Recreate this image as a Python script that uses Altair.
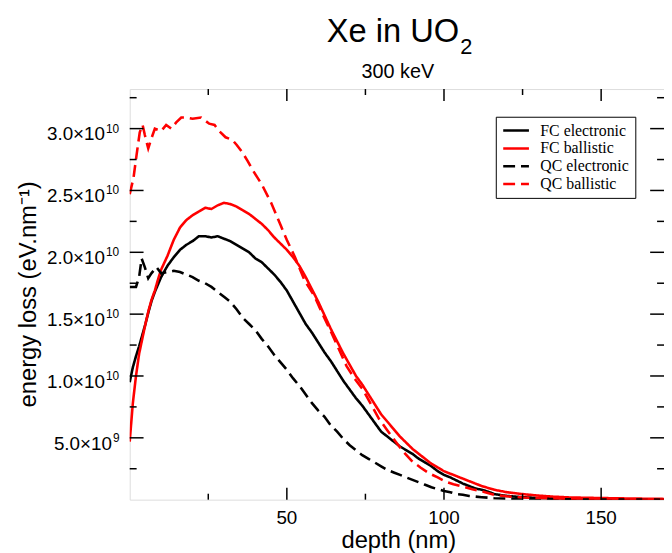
import altair as alt
import pandas as pd

# ---------------- data ----------------
series_names = ["FC electronic", "FC ballistic", "QC electronic", "QC ballistic"]
series_colors = ["black", "red", "black", "red"]
series_dash = [[1, 0], [1, 0], [12, 6], [12, 6]]

# values in units of 1e10 eV/nm
fc_el_x = [0, 1, 2, 3, 4, 5, 6, 7, 8, 10, 12, 14, 16, 18, 20, 22, 24, 26, 28, 30, 32, 34, 36, 38, 40,
           42, 44, 46, 48, 50, 52, 54, 56, 58, 60, 62, 64, 66, 68, 70, 72, 74, 76, 78, 80, 82, 84, 86,
           88, 90, 92, 94, 96, 98, 100, 102, 104, 106, 108, 110, 112, 114, 116, 120, 125, 130, 140,
           150, 160, 170]
fc_el_y = [0.95, 1.07, 1.16, 1.24, 1.33, 1.42, 1.52, 1.61, 1.68, 1.80, 1.89, 1.96, 2.02, 2.06, 2.09,
           2.13, 2.13, 2.12, 2.13, 2.11, 2.09, 2.06, 2.03, 2.00, 1.95, 1.92, 1.87, 1.82, 1.76, 1.69,
           1.60, 1.51, 1.42, 1.35, 1.27, 1.19, 1.12, 1.04, 0.96, 0.89, 0.82, 0.76, 0.69, 0.62, 0.55,
           0.51, 0.47, 0.43, 0.40, 0.37, 0.33, 0.30, 0.27, 0.23, 0.20, 0.18, 0.155, 0.13, 0.11, 0.09,
           0.08, 0.065, 0.045, 0.03, 0.02, 0.013, 0.007, 0.004, 0.002, 0.001]

fc_ba_x = [0, 1, 2, 3, 4, 5, 6, 7, 8, 9, 10, 12, 14, 16, 18, 20, 22, 24, 26, 28, 30, 32, 34, 36, 38,
           40, 42, 44, 46, 48, 50, 52, 54, 56, 58, 60, 62, 64, 66, 68, 70, 72, 74, 76, 78, 80, 82, 84,
           86, 88, 90, 92, 94, 96, 98, 100, 102, 104, 106, 108, 110, 112, 114, 116, 120, 125, 130,
           135, 140, 150, 160, 170]
fc_ba_y = [0.47, 0.78, 1.00, 1.18, 1.30, 1.42, 1.53, 1.62, 1.69, 1.78, 1.86, 1.97, 2.10, 2.20, 2.26,
           2.30, 2.33, 2.36, 2.35, 2.38, 2.40, 2.39, 2.37, 2.34, 2.31, 2.27, 2.23, 2.18, 2.12, 2.07,
           2.02, 1.96, 1.89, 1.80, 1.70, 1.60, 1.49, 1.38, 1.28, 1.18, 1.09, 1.00, 0.93, 0.85, 0.77,
           0.69, 0.63, 0.57, 0.51, 0.46, 0.41, 0.37, 0.33, 0.29, 0.26, 0.23, 0.21, 0.19, 0.17, 0.15,
           0.13, 0.11, 0.095, 0.08, 0.06, 0.045, 0.033, 0.024, 0.018, 0.013, 0.009, 0.006]

qc_el_x = [0, 2, 3, 3.8, 4.8, 5.9, 6.9, 8.5, 10, 12, 14, 16, 18, 20, 22, 24, 26, 28, 30, 32, 34, 36,
           38, 40, 42, 44, 46, 48, 50, 52, 54, 56, 58, 60, 62, 64, 66, 68, 70, 72, 74, 76, 78, 80, 82,
           84, 86, 88, 90, 92, 94, 96, 98, 100, 102, 104, 106, 108, 112, 116, 120, 130, 150, 170]
qc_el_y = [1.72, 1.72, 1.80, 1.95, 1.88, 1.79, 1.83, 1.88, 1.83, 1.84, 1.85, 1.84, 1.82, 1.80, 1.77,
           1.75, 1.72, 1.68, 1.64, 1.60, 1.54, 1.47, 1.42, 1.37, 1.30, 1.24, 1.17, 1.11, 1.05, 0.98,
           0.92, 0.85, 0.78, 0.72, 0.67, 0.60, 0.55, 0.49, 0.44, 0.40, 0.36, 0.33, 0.30, 0.27, 0.24,
           0.22, 0.20, 0.18, 0.16, 0.14, 0.12, 0.10, 0.085, 0.07, 0.06, 0.045, 0.04, 0.03, 0.02,
           0.012, 0.008, 0.004, 0.001, 0.0]

qc_ba_x = [0, 1.2, 2.2, 3.2, 4.1, 4.8, 5.9, 6.9, 8, 10, 11.6, 13.2, 14.8, 16.4, 18, 20, 22.7, 25.3,
           27, 28.5, 30.5, 32.6, 34, 35.8, 37.5, 39, 42, 45, 48, 50, 52.6, 55.7, 58.9, 61, 64, 66.5,
           69, 71.5, 74.2, 77, 79.4, 82, 84.7, 87, 90, 92.5, 95.2, 98, 100.4, 103, 105.7, 109, 112,
           116, 120, 125, 130, 140, 150, 160, 170]
qc_ba_y = [2.47, 2.60, 2.79, 2.97, 3.03, 2.95, 2.84, 2.92, 3.00, 2.98, 3.03, 3.00, 3.05, 3.09, 3.09,
           3.08, 3.09, 3.04, 3.03, 2.98, 2.93, 2.91, 2.87, 2.81, 2.74, 2.67, 2.55, 2.40, 2.22, 2.10,
           1.96, 1.77, 1.64, 1.52, 1.36, 1.22, 1.08, 0.98, 0.89, 0.76, 0.65, 0.56, 0.467, 0.39, 0.307,
           0.26, 0.214, 0.18, 0.147, 0.125, 0.107, 0.085, 0.067, 0.04, 0.027, 0.018, 0.013, 0.007,
           0.004, 0.002, 0.001]

x_major = [50, 100, 150]
x_major_labels = ["50", "100", "150"]
x_minor = [25, 75, 125]
y_major = [5e9, 1.0e10, 1.5e10, 2.0e10, 2.5e10, 3.0e10]
y_mantissa = ["5.0", "1.0", "1.5", "2.0", "2.5", "3.0"]
y_exponent = ["9", "10", "10", "10", "10", "10"]
y_minor = [2.5e9, 7.5e9, 1.25e10, 1.75e10, 2.25e10, 2.75e10, 3.25e10]

title_main = "Xe in UO"
title_sub = "2"
subtitle = "300 keV"
x_title = "depth (nm)"
y_title = "energy loss (eV.nm\u207b\u00b9)"

# ---------------- build tables ----------------
rows = []
for name, xv, yv in [(series_names[0], fc_el_x, fc_el_y), (series_names[1], fc_ba_x, fc_ba_y),
                     (series_names[2], qc_el_x, qc_el_y), (series_names[3], qc_ba_x, qc_ba_y)]:
    for a, b in zip(xv, yv):
        rows.append({"depth": a, "loss": b * 1e10, "series": name})
df = pd.DataFrame(rows)

W, H = 540, 415
FONT = "Liberation Sans"
xs = alt.Scale(domain=[0, 170], nice=False, zero=False)
ys = alt.Scale(domain=[0, 3.32e10], nice=False, zero=False)

leg = alt.Legend(title=None, orient="none", legendX=370, legendY=28, symbolType="stroke",
                 symbolSize=676, symbolStrokeWidth=2.5, labelFont="Liberation Serif",
                 labelFontSize=16, labelColor="black", strokeColor="black", fillColor="white",
                 padding=6, rowPadding=2, clipHeight=16, labelOffset=10, cornerRadius=0,
                 labelLimit=0)

lines = alt.Chart(df).mark_line(strokeWidth=2.6, clip=True).encode(
    x=alt.X("depth:Q", scale=xs, axis=None),
    y=alt.Y("loss:Q", scale=ys, axis=None),
    color=alt.Color("series:N", scale=alt.Scale(domain=series_names, range=series_colors),
                    legend=leg, sort=series_names),
    strokeDash=alt.StrokeDash("series:N", scale=alt.Scale(domain=series_names, range=series_dash),
                              legend=leg, sort=series_names),
)

xmaj = pd.DataFrame({"depth": x_major, "lab": x_major_labels})
xmin = pd.DataFrame({"depth": x_minor})
ymaj = pd.DataFrame({"loss": y_major, "man": [m + "\u00d710" for m in y_mantissa], "exp": y_exponent})
ymin = pd.DataFrame({"loss": y_minor})

def xrule(d, y0, y1):
    return alt.Chart(d).mark_rule(color="black", strokeWidth=1.5).encode(
        x=alt.X("depth:Q", scale=xs, axis=None), y=alt.value(y0), y2=alt.value(y1))

def yrule(d, x0, x1):
    return alt.Chart(d).mark_rule(color="black", strokeWidth=1.5).encode(
        y=alt.Y("loss:Q", scale=ys, axis=None), x=alt.value(x0), x2=alt.value(x1))

ticks = [
    xrule(xmaj, H, H - 12), xrule(xmaj, 0, 12), xrule(xmin, H, H - 6), xrule(xmin, 0, 6),
    yrule(ymaj, 0, 14), yrule(ymaj, W, W - 14), yrule(ymin, 0, 7), yrule(ymin, W, W - 7),
]

xlabels = alt.Chart(xmaj).mark_text(font=FONT, fontSize=19, align="center", baseline="alphabetic").encode(
    x=alt.X("depth:Q", scale=xs, axis=None), y=alt.value(H + 25), text="lab:N")

def ylab(exp, xman):
    base = alt.Chart(ymaj).transform_filter(alt.datum.exp == exp)
    man = base.mark_text(font=FONT, fontSize=19, align="right", baseline="alphabetic", dy=12).encode(
        y=alt.Y("loss:Q", scale=ys, axis=None), x=alt.value(xman), text="man:N")
    sup = base.mark_text(font=FONT, fontSize=12, align="left", baseline="alphabetic", dy=4).encode(
        y=alt.Y("loss:Q", scale=ys, axis=None), x=alt.value(xman + 1), text="exp:N")
    return [man, sup]

ylabels = ylab("10", -25) + ylab("9", -18)

def label(text, x, y, size, align="center", angle=0):
    kw = dict(font=FONT, fontSize=size, align=align, baseline="alphabetic", color="black")
    if angle:
        kw["angle"] = angle
    return alt.Chart(pd.DataFrame({"t": [text]})).mark_text(**kw).encode(
        x=alt.value(x), y=alt.value(y), text="t:N")

texts = [
    label(title_main, 333, -48, 33, align="right"),
    label(title_sub, 334, -35, 22, align="left"),
    label(subtitle, 271, -11, 20),
    label(x_title, 272, H + 49, 24),
    label(y_title, -94.5, H / 2, 24, angle=270),
]

chart = alt.layer(lines, *ticks, xlabels, *ylabels, *texts).properties(
    width=W, height=H,
    padding={"left": 123, "top": 79, "right": 0, "bottom": 51},
    autosize=alt.AutoSizeParams(type="none"),
).configure_view(stroke="black", strokeWidth=1.5).configure(font=FONT)

chart.save("out.html", embed_options={"renderer": "svg", "actions": False})
